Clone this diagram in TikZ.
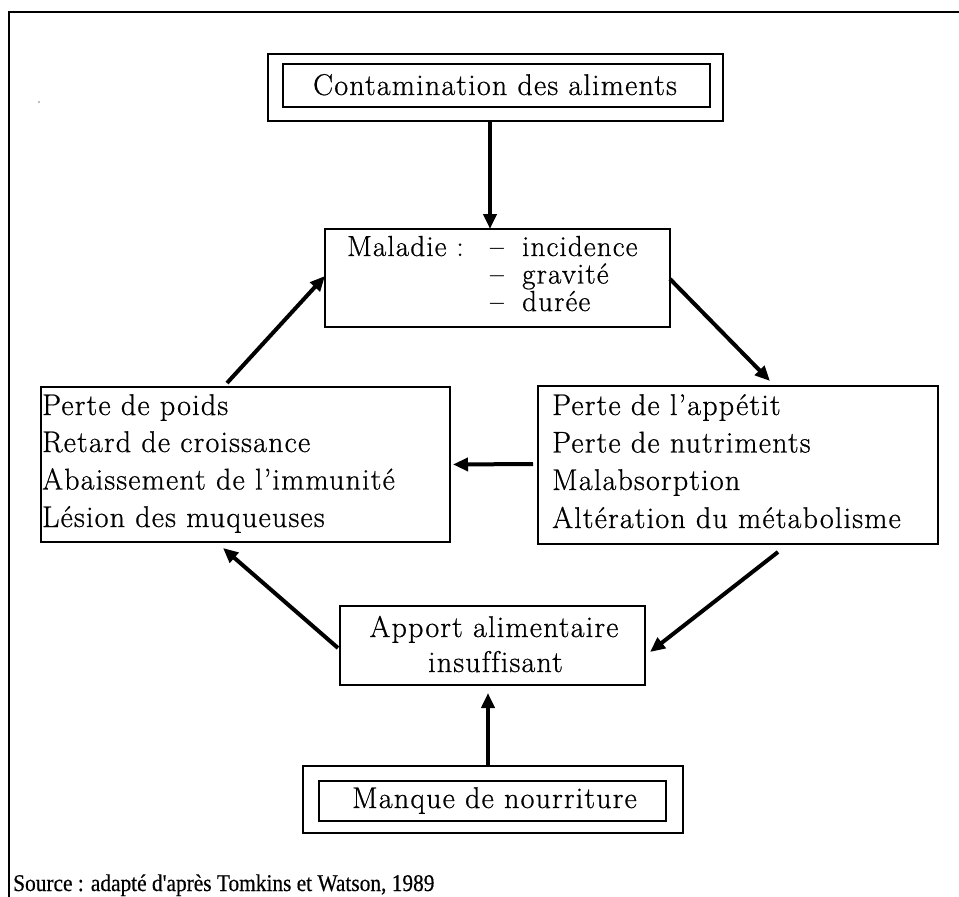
\documentclass[tikz,border=0pt]{standalone}
\usepackage{fontspec}
\setmainfont{Latin Modern Roman}[LetterSpace=4,Ligatures=NoCommon,FakeBold=0.7]
\newfontfamily\srcfont{Liberation Serif}[FakeStretch=0.89,FakeBold=0.5]
\usetikzlibrary{arrows.meta,calc}
\begin{document}
\begin{tikzpicture}[x=1pt,y=-1pt,
  box/.style={draw,line width=1.1pt,inner sep=0pt,outer sep=0pt},
  ibox/.style={draw,line width=1.5pt,inner sep=0pt,outer sep=0pt},
  txt/.style={anchor=base west,inner sep=0pt,font=\fontsize{30}{33}\selectfont},
  mtxt/.style={anchor=base west,inner sep=0pt,font=\fontsize{29}{30}\selectfont},
  txtc/.style={anchor=base,inner sep=0pt,font=\fontsize{30}{33}\selectfont},
  arr/.style={line width=4pt,-{Triangle[length=15pt,width=13pt]}}]
\useasboundingbox (0,0) rectangle (959,897);
\fill[white] (0,0) rectangle (959,897);
% frame
\draw[line width=2.5pt] (8,12) -- (959,12);
\draw[line width=2.5pt] (9,12) -- (9,897);
\fill[gray] (39,102) circle (0.8);

% boxes
\node[box,minimum width=455pt,minimum height=67pt] (contout) at (495.5,87.5) {};
\node[ibox,minimum width=427pt,minimum height=43pt] (contin) at (496.5,85.5) {};
\node[box,minimum width=345pt,minimum height=98pt] (mal) at (497.5,278) {};
\node[box,minimum width=400pt,minimum height=158pt] (right) at (738,465) {};
\node[box,minimum width=409pt,minimum height=155pt] (left) at (245.5,464.5) {};
\node[box,minimum width=305pt,minimum height=79pt] (apport) at (492.5,645.5) {};
\node[box,minimum width=380pt,minimum height=67pt] (mqout) at (493,799.5) {};
\node[ibox,minimum width=347pt,minimum height=40pt] (mqin) at (492.5,801) {};

% texts
\node[txtc] (t1) at (495,95) {Contamination des aliments};
\node[mtxt] (m1) at (347,256) {Maladie :};
\node[mtxt] (m2) at (490,256) {\makebox[32pt][l]{–}incidence};
\node[mtxt] (m3) at (490,283.5) {\makebox[32pt][l]{–}gravité};
\node[mtxt] (m4) at (490,311) {\makebox[32pt][l]{–}durée};

\node[txt] (r1) at (552,415) {Perte de l'appétit};
\node[txt] (r2) at (552,452.5) {Perte de nutriments};
\node[txt] (r3) at (552,490) {Malabsorption};
\node[txt] (r4) at (552,528) {Altération du métabolisme};

\node[txt] (l1) at (42,415) {Perte de poids};
\node[txt] (l2) at (42,452) {Retard de croissance};
\node[txt] (l3) at (42,489.5) {Abaissement de l'immunité};
\node[txt] (l4) at (42,527) {Lésion des muqueuses};

\node[txtc] (a1) at (494,637) {Apport alimentaire};
\node[txtc] (a2) at (495.5,672) {insuffisant};

\node[txtc] (mq) at (494.5,808) {Manque de nourriture};

\node[anchor=base west,inner sep=0pt,font=\srcfont\fontsize{24}{26}\selectfont] (src) at (13,891) {Source : adapté d'après Tomkins et Watson, 1989};

% arrows
\draw[arr] ($(contout.south)+(-5.5,0)$) -- ($(mal.north)+(-7.5,0)$);
\draw[arr] ($(mal.east)+(0,1)$) -- ($(right.north)+(32,-5)$);
\draw[arr] ($(right.west)+(-5,-1)$) -- ($(left.east)+(3,0)$);
\draw[arr] ($(right.south)+(40,8)$) -- ($(apport.east)+(5,6.5)$);
\draw[arr] ($(mqout.north)+(-5,0)$) -- ($(apport.south)+(-4.5,8)$);
\draw[arr] ($(apport.west)+(-2,2.5)$) -- ($(left.south)+(-22.5,6)$);
\draw[arr] ($(left.north)+(-18.5,-4)$) -- ($(mal.west)+(0,-2)$);
\end{tikzpicture}
\end{document}
